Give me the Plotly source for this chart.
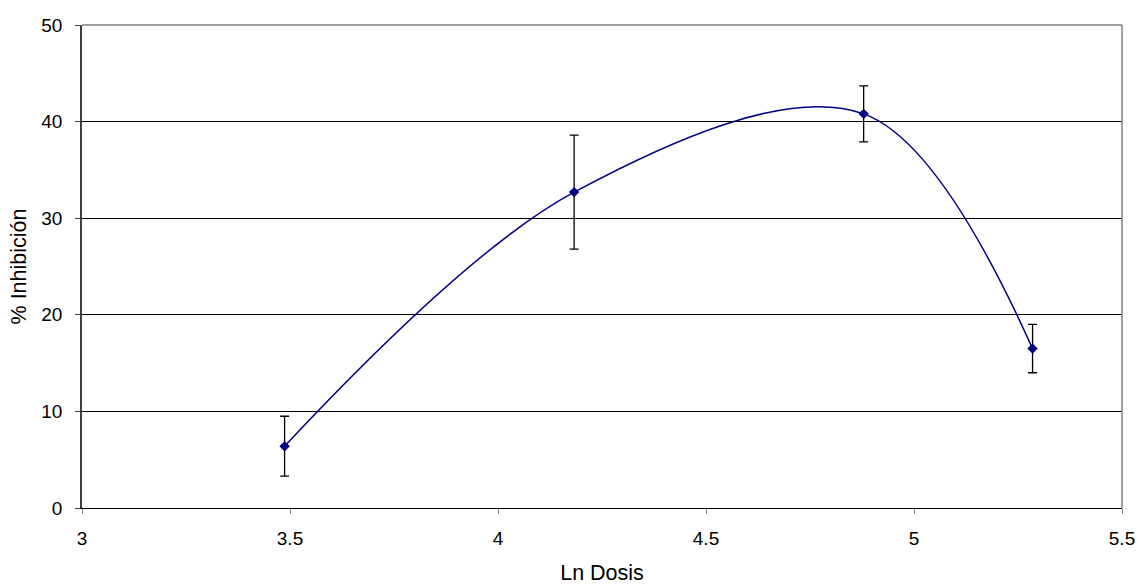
import plotly.graph_objects as go

ln_dosis = [3.487, 4.183, 4.879, 5.285]
inhibicion = [6.4, 32.7, 40.8, 16.5]
error = [3.1, 5.9, 2.9, 2.5]
x_ticks = [3, 3.5, 4, 4.5, 5, 5.5]
y_ticks = [0, 10, 20, 30, 40, 50]

fig = go.Figure()
fig.add_trace(go.Scatter(
    x=ln_dosis, y=inhibicion,
    mode="lines+markers",
    line=dict(color="#000080", width=1.5, shape="spline", smoothing=1.0),
    marker=dict(symbol="diamond", size=8, color="#000080"),
    error_y=dict(type="data", array=error, visible=True, color="black", thickness=1.3, width=4.5),
    showlegend=False,
    cliponaxis=False,
))

tick_font = dict(family="Liberation Sans, Arial, sans-serif", size=19, color="black")
title_font = dict(family="Liberation Sans, Arial, sans-serif", size=21.5, color="black")
fig.update_layout(
    width=1140, height=585,
    margin=dict(l=82, r=18, t=25, b=77),
    paper_bgcolor="white", plot_bgcolor="white",
    font=tick_font,
    xaxis=dict(range=[3, 5.5], tickvals=x_ticks, ticktext=[str(v) for v in x_ticks],
               showgrid=False, zeroline=False, showline=True, linecolor="black", linewidth=1,
               ticks="outside", ticklen=5, tickcolor="#808080", ticklabelstandoff=8,
               tickfont=tick_font, automargin=False,
               title=dict(text="Ln Dosis", font=title_font, standoff=23)),
    yaxis=dict(range=[0, 50], tickvals=y_ticks, showgrid=True, gridcolor="black", gridwidth=1,
               zeroline=False, showline=True, linecolor="#404040", linewidth=1.5,
               ticks="outside", ticklen=5, tickcolor="#404040", ticklabelstandoff=9,
               tickfont=tick_font, automargin=False,
               title=dict(text="% Inhibición", font=title_font, standoff=9)),
)
fig.add_shape(type="line", xref="paper", yref="paper", x0=0, x1=1, y0=1, y1=1,
              line=dict(color="#808080", width=1.5))
fig.add_shape(type="line", xref="paper", yref="paper", x0=1, x1=1, y0=0, y1=1,
              line=dict(color="#808080", width=1.5))
fig.write_html("out.html", config={"displayModeBar": False},
               post_script="document.body.style.margin='0';")
